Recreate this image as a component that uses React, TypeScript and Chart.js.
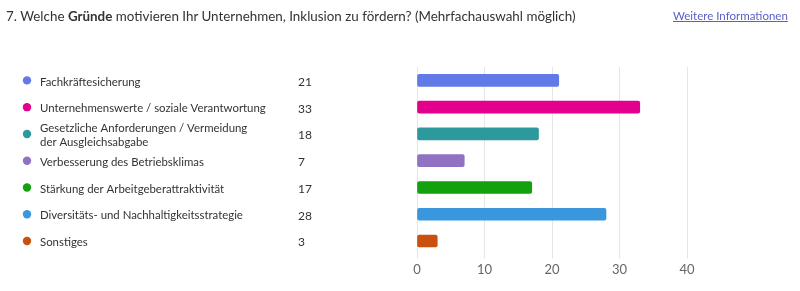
import React, { useEffect, useRef } from "react";
import { Chart, registerables } from "chart.js";

Chart.register(...registerables);

// Answer options (multi-line entries are wrapped as in the survey)
const categories: string[][] = [
  ["Fachkräftesicherung"],
  ["Unternehmenswerte / soziale Verantwortung"],
  ["Gesetzliche Anforderungen / Vermeidung", "der Ausgleichsabgabe"],
  ["Verbesserung des Betriebsklimas"],
  ["Stärkung der Arbeitgeberattraktivität"],
  ["Diversitäts- und Nachhaltigkeitsstrategie"],
  ["Sonstiges"],
];

// Number of responses per option
const counts = [21, 33, 18, 7, 17, 28, 3];

const barColors = [
  "#6279E8",
  "#E3008C",
  "#2C9A9D",
  "#9172C2",
  "#13A10E",
  "#3A96DD",
  "#CA5010",
];

const axisMin = 0;
const axisMax = 40;
const axisStep = 10;

const FONT = "Lato, 'Open Sans', sans-serif";

// Draws the option list (dot, label, count) to the left of the bars,
// aligned with each category on the y scale.
const optionListPlugin = {
  id: "optionList",
  afterDraw(chart: any) {
    const { ctx } = chart;
    const yScale = chart.scales.y;
    ctx.save();
    categories.forEach((lines, i) => {
      const cy = yScale.getPixelForValue(i) + 1.5;
      ctx.fillStyle = barColors[i];
      ctx.beginPath();
      ctx.arc(27, cy - 1.5, 4.2, 0, Math.PI * 2);
      ctx.fill();

      ctx.fillStyle = "#333333";
      ctx.font = `11.4px ${FONT}`;
      ctx.textBaseline = "middle";
      ctx.textAlign = "left";
      const lh = 14;
      const top = cy - ((lines.length - 1) * lh) / 2;
      lines.forEach((ln, k) => ctx.fillText(ln, 40, top + k * lh));
      ctx.font = `12px ${FONT}`;
      ctx.fillText(String(counts[i]), 298, cy);
    });
    ctx.restore();
  },
};

export default function App() {
  const canvasRef = useRef<HTMLCanvasElement | null>(null);

  useEffect(() => {
    const chart = new Chart(canvasRef.current!, {
      type: "bar",
      data: {
        labels: categories.map((c) => c.join(" ")),
        datasets: [
          {
            data: counts,
            backgroundColor: barColors,
            borderColor: barColors,
            borderWidth: 0,
            borderRadius: 2,
            borderSkipped: false,
            barThickness: 12,
          },
        ],
      },
      options: {
        indexAxis: "y",
        responsive: false,
        animation: false,
        devicePixelRatio: 1,
        layout: { padding: { left: 417, right: 113, top: 67, bottom: 9 } },
        plugins: {
          legend: { display: false },
          tooltip: { enabled: false },
        },
        scales: {
          x: {
            min: axisMin,
            max: axisMax,
            ticks: {
              stepSize: axisStep,
              color: "#666666",
              font: { family: FONT, size: 13 },
              padding: 4,
            },
            grid: { color: "#e6e6e6", tickLength: 4 },
            border: { display: false },
          },
          y: {
            display: false,
          },
        },
      },
      plugins: [optionListPlugin],
    });
    return () => chart.destroy();
  }, []);

  return (
    <div
      style={{
        position: "fixed",
        left: 0,
        top: 0,
        width: 800,
        height: 291,
        background: "#ffffff",
        overflow: "hidden",
      }}
    >
      <canvas
        ref={canvasRef}
        width={800}
        height={291}
        style={{ position: "absolute", left: 0, top: 0 }}
      />
      <div
        style={{
          position: "absolute",
          left: 6,
          top: 8,
          fontFamily: FONT,
          fontSize: 13.4,
          color: "#333333",
          whiteSpace: "nowrap",
        }}
      >
        7. Welche <b>Gründe</b> motivieren Ihr Unternehmen, Inklusion zu fördern? (Mehrfachauswahl möglich)
      </div>
      <a
        href="#"
        style={{
          position: "absolute",
          left: 673,
          top: 9,
          fontFamily: FONT,
          fontSize: 11.5,
          color: "#5b5fc7",
          textDecoration: "underline",
          whiteSpace: "nowrap",
        }}
      >
        Weitere Informationen
      </a>
    </div>
  );
}
